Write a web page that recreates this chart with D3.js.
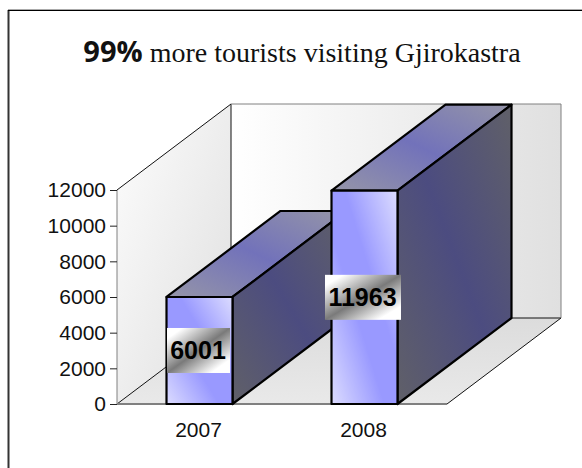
<!DOCTYPE html>
<html><head><meta charset="utf-8">
<script src="https://cdn.jsdelivr.net/npm/d3@7"></script>
<style>html,body{margin:0;padding:0;background:#fff}svg{display:block}</style>
</head><body><svg id="c" width="582" height="468"></svg>
<script>
const categories = ["2007", "2008"];
const values = [6001, 11963];
const yTicks = [0, 2000, 4000, 6000, 8000, 10000, 12000];
const titleBold = "99%";
const titleRest = " more tourists visiting Gjirokastra";

const svg = d3.select("#c");
const defs = svg.append("defs");
function grad(id, x1, y1, x2, y2, stops) {
  const g = defs.append("linearGradient").attr("id", id)
    .attr("x1", x1).attr("y1", y1).attr("x2", x2).attr("y2", y2);
  stops.forEach(s => g.append("stop").attr("offset", s[0]).attr("stop-color", s[1]));
}
grad("wallL", 0, 0, 1, 1, [[0, "#fdfdfd"], [1, "#dedede"]]);
grad("wallB", 0, 0, 1, 0, [[0, "#ffffff"], [1, "#e0e0e0"]]);
grad("floor", 0, 0, 0, 1, [[0, "#dcdcdc"], [1, "#e9e9e9"]]);
grad("front", 0, 1, 1, 0, [[0, "#dcdcff"], [0.4, "#9999ff"], [0.6, "#9999ff"], [1, "#dcdcff"]]);
grad("topF", 0, 1, 1, 0, [[0, "#9595a8"], [0.5, "#7272ba"], [1, "#9595a8"]]);
grad("side", 0, 1, 1, 0, [[0, "#606068"], [0.5, "#4c4c80"], [1, "#606068"]]);
grad("lab", 0, 0, 1, 1, [[0, "#ffffff"], [0.12, "#ffffff"], [0.5, "#7a7a7a"], [0.85, "#ffffff"], [1, "#ffffff"]]);

// chart frame: only the top and left edges are inside the picture
svg.append("line").attr("x1", 8.5).attr("x2", 8.5).attr("y1", 10).attr("y2", 468)
  .attr("stroke", "#333").attr("stroke-width", 2);
svg.append("line").attr("x1", 8).attr("x2", 582).attr("y1", 9.5).attr("y2", 9.5)
  .attr("stroke", "#aaa").attr("stroke-width", 1);
svg.append("line").attr("x1", 8).attr("x2", 582).attr("y1", 10.5).attr("y2", 10.5)
  .attr("stroke", "#000").attr("stroke-width", 1);

const x = d3.scaleBand().domain(categories).range([117, 447]).paddingInner(0.6).paddingOuter(0.3);
const y = d3.scaleLinear().domain([0, 12000]).range([404, 190]);
const dx = 114, dy = -86;
const line = d3.line();
const x0 = x.range()[0], x1 = x.range()[1], y0 = y(0), yT = y(12000);

// walls and floor
svg.append("path").attr("d", line([[x0, y0], [x0 + dx, y0 + dy], [x1 + dx, y0 + dy], [x1, y0]]) + "Z")
  .attr("fill", "url(#floor)");
svg.append("path").attr("d", line([[x0, yT], [x0 + dx, yT + dy], [x0 + dx, y0 + dy], [x0, y0]]) + "Z")
  .attr("fill", "url(#wallL)");
svg.append("rect").attr("x", x0 + dx).attr("y", yT + dy).attr("width", x1 - x0).attr("height", y0 - yT)
  .attr("fill", "url(#wallB)");
const thin = (pts, col, w) => svg.append("path").attr("d", line(pts)).attr("fill", "none").attr("stroke", col).attr("stroke-width", w);
thin([[x0, y0], [x0 + dx, y0 + dy], [x1 + dx, y0 + dy]], "#111", 1);
thin([[x0 + dx, yT + dy], [x0 + dx, y0 + dy]], "#111", 1);
thin([[x0, yT], [x0 + dx, yT + dy]], "#111", 1);
thin([[x0 + dx, yT + dy], [x1 + dx, yT + dy], [x1 + dx, y0 + dy]], "#808080", 1);
thin([[x1, y0], [x1 + dx, y0 + dy]], "#111", 1);
thin([[x0, yT], [x0, y0]], "#808080", 1);
thin([[x0, y0], [x1, y0]], "#808080", 2);

// y axis ticks and labels
const axis = d3.axisLeft(y).tickValues(yTicks).tickFormat(d3.format("d")).tickSize(7).tickPadding(4);
const gA = svg.append("g").attr("transform", `translate(${x0},0)`).call(axis);
gA.select(".domain").remove();
gA.selectAll("line").attr("stroke", "#222");
gA.selectAll("text").attr("font-family", "Liberation Sans").attr("font-size", 21).attr("fill", "#111");

// x axis labels
svg.selectAll(".xl").data(categories).enter().append("text").attr("class", "xl")
  .attr("x", d => x(d) + x.bandwidth() / 2 - 1).attr("y", 437).attr("text-anchor", "middle")
  .attr("font-family", "Liberation Sans").attr("font-size", 21).attr("fill", "#111").text(d => d);

// bars
const bars = svg.selectAll(".bar").data(categories.map((c, i) => ({ c, v: values[i] }))).enter().append("g").attr("class", "bar");
const st = s => s.attr("stroke", "#000").attr("stroke-width", 2.2).attr("stroke-linejoin", "round");
bars.append("path").call(st).attr("fill", "url(#topF)").attr("d", d => {
  const a = x(d.c), b = a + x.bandwidth(), t = y(d.v);
  return line([[a, t], [a + dx, t + dy], [b + dx, t + dy], [b, t]]) + "Z";
});
bars.append("path").call(st).attr("fill", "url(#side)").attr("d", d => {
  const b = x(d.c) + x.bandwidth(), t = y(d.v);
  return line([[b, t], [b + dx, t + dy], [b + dx, y0 + dy], [b, y0]]) + "Z";
});
bars.append("rect").call(st).attr("fill", "url(#front)")
  .attr("x", d => x(d.c)).attr("y", d => y(d.v)).attr("width", x.bandwidth()).attr("height", d => y0 - y(d.v));

// value labels
const labW = [63, 76], labH = 45;
const labX = [167, 325];
const labY = d => (y(d.v) + y0) / 2 - labH / 2;
bars.append("rect").attr("fill", "url(#lab)")
  .attr("x", (d, i) => labX[i]).attr("y", labY).attr("width", (d, i) => labW[i]).attr("height", labH);
bars.append("text").attr("x", (d, i) => labX[i] + labW[i] / 2 - 0.5).attr("y", d => labY(d) + labH / 2 + 8.5)
  .attr("text-anchor", "middle").attr("font-family", "Liberation Sans").attr("font-weight", "bold")
  .attr("font-size", 25).attr("fill", "#000").text(d => d.v);

// title
const t = svg.append("text").attr("x", 302).attr("y", 62).attr("text-anchor", "middle")
  .attr("font-family", "Liberation Serif").attr("font-size", 28).attr("fill", "#111");
t.append("tspan").attr("font-family", "Open Sans").attr("font-weight", "bold").attr("font-size", 29).text(titleBold);
t.append("tspan").attr("xml:space", "preserve").text(titleRest);
</script></body></html>
